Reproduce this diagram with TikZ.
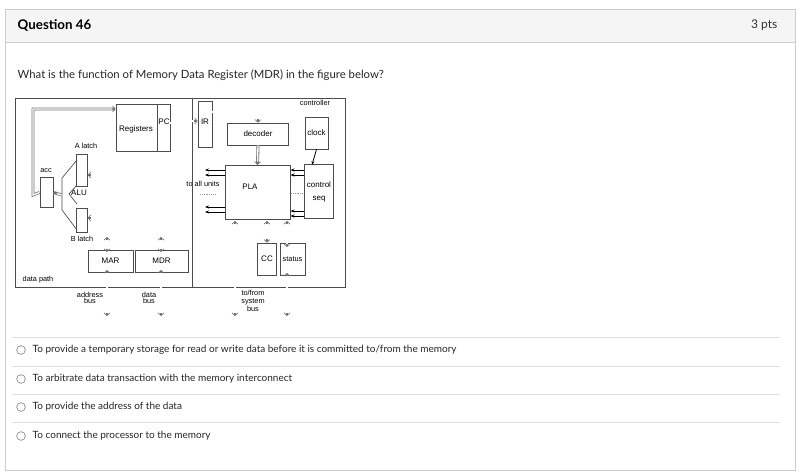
\documentclass[tikz,border=0pt]{standalone}
\usepackage{fontspec}
\setmainfont{Lato}
\newfontfamily\diag{Liberation Sans}
\usetikzlibrary{arrows.meta}
\begin{document}
\begin{tikzpicture}[x=0.75pt,y=-0.75pt,
  box/.style={draw=black!70,line width=0.5pt},
  lbl/.style={font=\diag\fontsize{5.5}{6}\selectfont,inner sep=0.5pt,align=center},
  bus/.style={draw=black!55,line width=2.2pt,postaction={draw=white,line width=1pt,-,shorten >=2.5pt,shorten <=0pt}},
  busa/.style={bus,-{Straight Barb[length=2pt,width=4.5pt,line width=0.5pt]}},
  busb/.style={draw=black!55,line width=2.2pt,{Straight Barb[length=2pt,width=4.5pt,line width=0.5pt]}-{Straight Barb[length=2pt,width=4.5pt,line width=0.5pt]},postaction={draw=white,line width=1pt,-,shorten >=2.5pt,shorten <=2.5pt}},
  sig/.style={draw=black,line width=0.6pt,-{Stealth[length=3pt]}},
  opt/.style={anchor=west,font=\fontsize{7.5}{9}\selectfont,text=black!85},
  radio/.style={draw=black!55,circle,minimum size=6.5pt,inner sep=0pt}]
\useasboundingbox (0,0) rectangle (800,474);
\fill[white] (0,0) rectangle (800,474);
\fill[black!4] (5,9) rectangle (795,42);
\draw[black!20] (5,9) rectangle (795,470);
\draw[black!20] (5,42) -- (795,42);
\node[anchor=west,font=\bfseries\fontsize{10}{12}\selectfont] (q) at (13,25) {Question 46};
\node[anchor=east,font=\fontsize{9}{11}\selectfont,text=black!80] (pts) at (782,25) {3 pts};
\node[anchor=west,font=\fontsize{8.5}{10}\selectfont,text=black!85] (qt) at (13,75) {What is the function of Memory Data Register (MDR) in the figure below?};
% diagram frame
\draw[box] (15,98) rectangle (345,287);
\draw[box] (192,98) -- (192,287);
\node[box,minimum width=0pt] (reg) at (143,127.5) [minimum width=54pt*0.75,minimum height=47pt*0.75] {};
\draw[box] (157,104) -- (157,151);
\node[lbl,font=\diag\fontsize{6}{7}\selectfont] (regt) at (136,129) {Registers};
\node[lbl,font=\diag\fontsize{6}{7}\selectfont] (pct) at (164,122) {PC};
\node[box,minimum width=10.5pt,minimum height=34pt,inner sep=0pt] (ir) at (205,124.5) {};
\node[lbl,font=\diag\fontsize{6}{7}\selectfont] (irt) at (205,122) {IR};
\node[box,minimum width=45.75pt,minimum height=16.5pt,lbl,font=\diag\fontsize{6}{7}\selectfont] (dec) at (258,134) {decoder};
\node[lbl] (ctl) at (315,103) {controller};
\node[box,minimum width=17pt,minimum height=24pt,lbl,font=\diag\fontsize{6}{7}\selectfont] (clk) at (316.5,133) {clock};
\node[box,minimum width=49pt,minimum height=41pt] (pla) at (257.5,192.5) {};
\node[lbl,font=\diag\fontsize{6}{7}\selectfont] (plat) at (250,187) {PLA};
\node[box,minimum width=22pt,minimum height=40pt] (seq) at (318.5,191.5) {};
\node[lbl,font=\diag\fontsize{6}{7}\selectfont] (seqt) at (319,192) {control\\[3pt]seq};
\node[box,minimum width=14pt,minimum height=24pt,lbl,font=\diag\fontsize{6}{7}\selectfont] (cc) at (267,259) {CC};
\node[box,minimum width=19pt,minimum height=24pt,lbl] (st) at (292.5,259) {status};
\node[box,minimum width=34pt,minimum height=16.5pt,lbl,font=\diag\fontsize{6}{7}\selectfont] (mar) at (110.5,261) {MAR};
\node[box,minimum width=40pt,minimum height=16.5pt,lbl,font=\diag\fontsize{6}{7}\selectfont] (mdr) at (161.5,261) {MDR};
\node[box,minimum width=10pt,minimum height=23pt,inner sep=0pt] (acc) at (46.5,192.5) {};
\node[box,minimum width=8pt,minimum height=24pt,inner sep=0pt] (al) at (82,170) {};
\node[box,minimum width=8pt,minimum height=18pt,inner sep=0pt] (bl) at (82,220) {};
\draw[box] (77,160) -- (62,178) -- (62,210) -- (77,230) (77,185) -- (69,194) -- (77,204);
\node[lbl] (acct) at (46,171) {acc};
\node[lbl,font=\diag\fontsize{6}{7}\selectfont] (alut) at (79,193) {ALU};
\node[lbl] (alt) at (86,146) {A latch};
\node[lbl] (blt) at (82,239) {B latch};
\node[lbl] (dp) at (38,280) {data path};
\node[lbl] (tau) at (203,184) {to all units};
\draw[black!40,densely dotted] (200,194) -- (215,194) (291,193) -- (303,193);
% buses
\draw[busa] (acc.west) -- (33,195) -- (33,109) -- (reg.west|-0,109);
\draw[bus] (62,195) -- (acc.east);
\draw[busa] (170,123) -- (183,123) -- (183,237) -- (100,237) -- (100,175) -- (al.east|-0,175);
\draw[busa] (100,218) -- (bl.east|-0,218);
\draw[busa] (183,121) -- (ir.west|-0,121);
\draw[busb] (107,237) -- (107,252);
\draw[busb] (161,237) -- (161,252);
\draw[busb] (107,270) -- (107,316);
\draw[busb] (161,270) -- (161,316);
\node[lbl] (ab) at (90,298) {address\\[-2pt]bus};
\node[lbl] (db) at (149,298) {data\\[-2pt]bus};
\draw[busa] (ir.east|-0,112) -- (258,112) -- (dec.north);
\draw[busa] (dec.south) -- (pla.north);
\draw[sig] (clk.south) -- (312,165);
\foreach \y in {170,175,211,216}{\draw[sig] (seq.west|-0,\y) -- (pla.east|-0,\y);}
\foreach \y in {170,175,207,212}{\draw[sig] (pla.west|-0,\y) -- (205,\y);}
\draw[busb] (235,221) -- (235,316);
\draw[busb] (cc.north|-0,221) -- (cc.north);
\draw[busb] (287,221) -- (287,247);
\draw[busb] (287,273) -- (287,316);
\node[lbl,font=\diag\fontsize{5.5}{5.8}\selectfont] (sb) at (253,301) {to/from\\system\\bus};
% options
\foreach \y in {337,366,394,422}{\draw[black!12] (12,\y) -- (780,\y);}
\node[radio] (r1) at (21,350) {}; \node[opt] (o1) at (28,350) {To provide a temporary storage for read or write data before it is committed to/from the memory};
\node[radio] (r2) at (21,379) {}; \node[opt] (o2) at (28,379) {To arbitrate data transaction with the memory interconnect};
\node[radio] (r3) at (21,407) {}; \node[opt] (o3) at (28,407) {To provide the address of the data};
\node[radio] (r4) at (21,436) {}; \node[opt] (o4) at (28,436) {To connect the processor to the memory};
\end{tikzpicture}
\end{document}
